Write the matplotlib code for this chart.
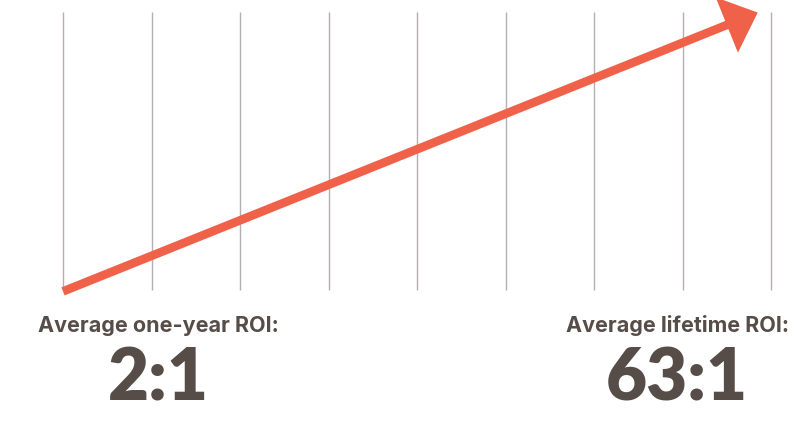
import matplotlib
matplotlib.use("Agg")
from matplotlib import pyplot as plt
from matplotlib.patches import FancyArrowPatch, ArrowStyle

# years shown as vertical guides, growth arrow in relative units
years = [0, 1, 2, 3, 4, 5, 6, 7, 8]
arrow_start = (0.0, -0.005)
arrow_end = (7.85, 0.998)

labels = ["Average one-year ROI:", "Average lifetime ROI:"]
ratios = ["2:1", "63:1"]

ORANGE = "#ef6249"
TEXT = "#564c48"
GRID = "#b5b0ae"

W, H = 797, 423
fig = plt.figure(figsize=(W / 100, H / 100), dpi=100)
ax = fig.add_axes([63 / W, 133 / H, 708 / W, 278 / H])
ax.set_xlim(0, 8)
ax.set_ylim(0, 1)
ax.axis("off")

ax.vlines(years, 0, 1, color=GRID, lw=1.0, zorder=1, clip_on=False)

style = ArrowStyle.Simple(head_length=24, head_width=43, tail_width=6.2)
arr = FancyArrowPatch(arrow_start, arrow_end, arrowstyle=style, mutation_scale=1,
                      color=ORANGE, lw=0, shrinkA=0, shrinkB=0, clip_on=False, zorder=3)
ax.add_patch(arr)

centers = [158 / W, 677 / W]
for cx, lab, r in zip(centers, labels, ratios):
    fig.text(cx, 1 - 332.5 / H, lab, ha="center", va="baseline", fontsize=15.5,
             fontweight="bold", family="Inter", color=TEXT)
    fig.text(cx, 1 - 400 / H, r, ha="center", va="baseline", fontsize=51,
             fontweight="heavy", family="Lato", color=TEXT)

fig.savefig("out.png", dpi=100)
